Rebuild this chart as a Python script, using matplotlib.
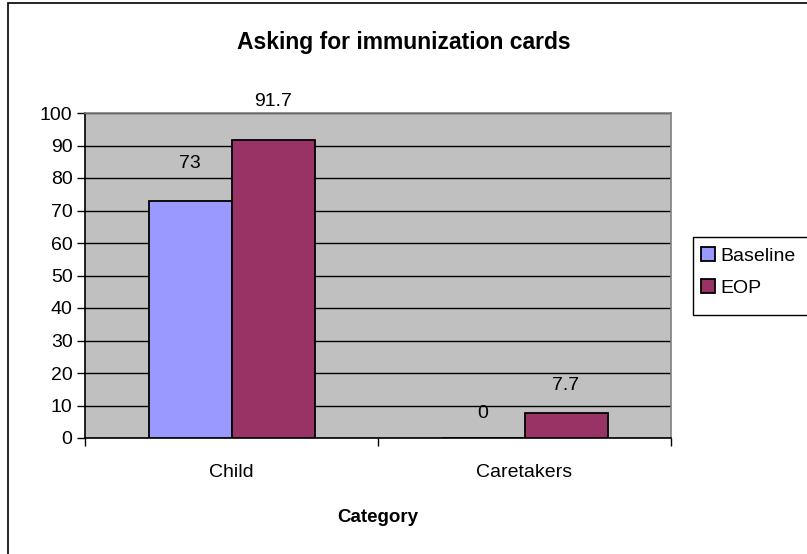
import matplotlib
matplotlib.use("Agg")
import matplotlib.pyplot as plt
from matplotlib.patches import Rectangle
import numpy as np

plt.rcParams['font.family'] = ['Liberation Sans', 'DejaVu Sans']

categories = ["Child", "Caretakers"]
series_names = ["Baseline", "EOP"]
baseline = [73, 0]
eop = [91.7, 7.7]
baseline_labels = ["73", "0"]
eop_labels = ["91.7", "7.7"]
yticks = [0, 10, 20, 30, 40, 50, 60, 70, 80, 90, 100]

W, H = 807, 554
FS = 14
fig = plt.figure(figsize=(W / 100, H / 100), dpi=100)
fig.patch.set_facecolor("white")

# figure border (clipped on right/bottom like the reference)
fig.patches.append(Rectangle((8 / W, -0.05), 1.2, 1 - 3 / H + 0.05,
                             transform=fig.transFigure, fill=False,
                             edgecolor="black", lw=1.2, zorder=0))

ax = fig.add_axes([85 / W, (H - 438) / H, 586 / W, 325 / H])
ax.set_facecolor("#C0C0C0")

x = np.arange(len(categories))
bw = 83 / 293
b1 = ax.bar(x - bw / 2, baseline, bw, color="#9999FF", edgecolor="black",
            lw=1.3, label=series_names[0], zorder=3)
b2 = ax.bar(x + bw / 2, eop, bw, color="#993366", edgecolor="black",
            lw=1.3, label=series_names[1], zorder=3)

offs1 = [37, 25]
offs2 = [38, 27]
for xi, v, lab, o in zip(x, baseline, baseline_labels, offs1):
    ax.annotate(lab, (xi - bw / 2, v), xytext=(0, o), textcoords="offset pixels",
                ha="center", va="center", fontsize=FS, zorder=5)
for xi, v, lab, o in zip(x, eop, eop_labels, offs2):
    ax.annotate(lab, (xi + bw / 2, v), xytext=(0, o), textcoords="offset pixels",
                ha="center", va="center", fontsize=FS, zorder=5)

ax.set_xlim(-0.5, len(categories) - 0.5)
ax.set_ylim(0, 100)
ax.set_yticks(yticks)
ax.set_yticklabels([str(t) for t in yticks], fontsize=FS)
ax.yaxis.grid(True, color="black", lw=1, zorder=1)
ax.set_axisbelow(True)
ax.tick_params(axis="y", direction="out", length=6, width=1, pad=3)

ax.set_xticks(x)
ax.set_xticklabels(categories, fontsize=FS)
ax.tick_params(axis="x", which="major", length=0, pad=19)
ax.set_xticks(np.arange(-0.5, len(categories)), minor=True)
ax.tick_params(axis="x", which="minor", direction="out", length=6, width=1)

for s in ["top", "right"]:
    ax.spines[s].set_color("#808080")
    ax.spines[s].set_linewidth(1.2)
for s in ["left", "bottom"]:
    ax.spines[s].set_color("black")
    ax.spines[s].set_linewidth(1.2)

ax.set_xlabel("Category", fontsize=13.5, fontweight="bold", labelpad=20)

fig.text(404 / W, 1 - 43 / H, "Asking for immunization cards",
         ha="center", va="center", fontsize=16.5, fontweight="bold")

# legend frame (extends past the right edge as in the reference)
fig.patches.append(Rectangle((693 / W, 1 - 315 / H), 0.2, 78 / H,
                             transform=fig.transFigure, facecolor="white",
                             edgecolor="black", lw=1, zorder=1))
leg = fig.legend(handles=[b1, b2], labels=series_names,
                 loc="upper left", bbox_to_anchor=(701 / W, 1 - 247 / H),
                 frameon=False, fontsize=FS,
                 handlelength=0.7, handleheight=0.7, handletextpad=0.3,
                 labelspacing=0.75, borderpad=0, borderaxespad=0)
leg.set_zorder(2)

fig.savefig("out.png", dpi=100)
